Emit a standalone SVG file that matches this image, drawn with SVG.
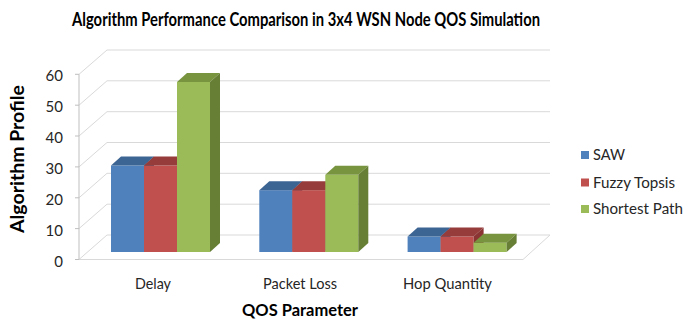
<svg xmlns="http://www.w3.org/2000/svg" width="683" height="320" viewBox="0 0 683 320">
<style>
.grid{stroke:#D9D9D9;stroke-width:1;fill:none}
.axis{stroke:#BFBFBF;stroke-width:1;fill:none}
.lbl{font-family:Lato,"Open Sans","Liberation Sans",sans-serif;font-size:15px;fill:#262626}
.ttl{font-family:Lato,"Open Sans","Liberation Sans",sans-serif;font-weight:bold;fill:#000}
.leg{font-family:Lato,"Open Sans","Liberation Sans",sans-serif;font-size:15px;fill:#262626}
.bF{fill:#4F81BD}.bT{fill:#3D6594}.bS{fill:#355A85}
.rF{fill:#C0504D}.rT{fill:#963C3A}.rS{fill:#8A3533}
.gF{fill:#9BBB59}.gT{fill:#78943E}.gS{fill:#677F35}
</style>
<rect width="683" height="320" fill="#fff"/>
<g id="title"><text class="ttl" x="72" y="25.5" font-size="18.5" textLength="468" lengthAdjust="spacingAndGlyphs">Algorithm Performance Comparison in 3x4 WSN Node QOS Simulation</text></g>
<g id="walls">
<path class="grid" d="M107 50H550M107 80.8H550M107 111.7H550M107 142.5H550M107 173.3H550M107 204.2H550M107 235H550"/>
<path class="grid" d="M79 74.3L107 50M79 105.2L107 80.8M79 136L107 111.7M79 166.9L107 142.5M79 197.8L107 173.3M79 228.6L107 204.2M79 259.5L107 235"/>
<path class="grid" d="M79 259.5H523L550 235"/>
<path class="axis" d="M79 74.3V259.5M75 74.3H79M75 105.2H79M75 136H79M75 166.9H79M75 197.8H79M75 228.6H79M75 259.5H79"/>
</g>
<g id="yticks" class="lbl" text-anchor="end">
<text x="63" y="81">60</text><text x="63" y="112">50</text><text x="63" y="143">40</text><text x="63" y="174">30</text><text x="63" y="204.5">20</text><text x="63" y="235.5">10</text><text x="63" y="266.5">0</text>
</g>
<g id="ytitle"><text class="ttl" font-size="18.5" text-anchor="middle" transform="translate(23.5,159) rotate(-90)" textLength="148" lengthAdjust="spacingAndGlyphs">Algorithm Profile</text></g>
<g id="delay">
<rect class="bF" x="111" y="165.5" width="33" height="86.5"/><polygon class="bT" points="111,165.5 121,156.5 154,156.5 144,165.5"/><polygon class="bS" points="144,165.5 154,156.5 154,243 144,252"/>
<rect class="rF" x="144" y="165.5" width="33" height="86.5"/><polygon class="rT" points="144,165.5 154,156.5 187,156.5 177,165.5"/><polygon class="rS" points="177,165.5 187,156.5 187,243 177,252"/>
<rect class="gF" x="177" y="82" width="33" height="170"/><polygon class="gT" points="177,82 187,73 220,73 210,82"/><polygon class="gS" points="210,82 220,73 220,243 210,252"/>
</g>
<g id="packet-loss">
<rect class="bF" x="259.3" y="190.2" width="33" height="61.8"/><polygon class="bT" points="259.3,190.2 269.3,181.2 302.3,181.2 292.3,190.2"/><polygon class="bS" points="292.3,190.2 302.3,181.2 302.3,243 292.3,252"/>
<rect class="rF" x="292.3" y="190.2" width="33" height="61.8"/><polygon class="rT" points="292.3,190.2 302.3,181.2 335.3,181.2 325.3,190.2"/><polygon class="rS" points="325.3,190.2 335.3,181.2 335.3,243 325.3,252"/>
<rect class="gF" x="325.3" y="174.8" width="33" height="77.2"/><polygon class="gT" points="325.3,174.8 335.3,165.8 368.3,165.8 358.3,174.8"/><polygon class="gS" points="358.3,174.8 368.3,165.8 368.3,243 358.3,252"/>
</g>
<g id="hop-quantity">
<rect class="bF" x="407.6" y="236.5" width="33" height="15.5"/><polygon class="bT" points="407.6,236.5 417.6,227.5 450.6,227.5 440.6,236.5"/><polygon class="bS" points="440.6,236.5 450.6,227.5 450.6,243 440.6,252"/>
<rect class="rF" x="440.6" y="236.5" width="33" height="15.5"/><polygon class="rT" points="440.6,236.5 450.6,227.5 483.6,227.5 473.6,236.5"/><polygon class="rS" points="473.6,236.5 483.6,227.5 483.6,243 473.6,252"/>
<rect class="gF" x="473.6" y="242.7" width="33" height="9.3"/><polygon class="gT" points="473.6,242.7 483.6,233.7 516.6,233.7 506.6,242.7"/><polygon class="gS" points="506.6,242.7 516.6,233.7 516.6,243 506.6,252"/>
</g>
<g id="xlabels" class="lbl">
<text x="135" y="289" textLength="36" lengthAdjust="spacingAndGlyphs">Delay</text>
<text x="263" y="289" textLength="74" lengthAdjust="spacingAndGlyphs">Packet Loss</text>
<text x="403" y="289" textLength="89" lengthAdjust="spacingAndGlyphs">Hop Quantity</text>
</g>
<g id="xtitle"><text class="ttl" x="242" y="316" font-size="17" textLength="116" lengthAdjust="spacingAndGlyphs">QOS Parameter</text></g>
<g id="legend">
<rect class="bF" x="581" y="151" width="8" height="8"/><text class="leg" x="593" y="160" textLength="32" lengthAdjust="spacingAndGlyphs">SAW</text>
<rect class="rF" x="581" y="178.5" width="8" height="8"/><text class="leg" x="593" y="187.5" textLength="82" lengthAdjust="spacingAndGlyphs">Fuzzy Topsis</text>
<rect class="gF" x="581" y="205" width="8" height="8"/><text class="leg" x="593" y="214" textLength="90" lengthAdjust="spacingAndGlyphs">Shortest Path</text>
</g>
</svg>
